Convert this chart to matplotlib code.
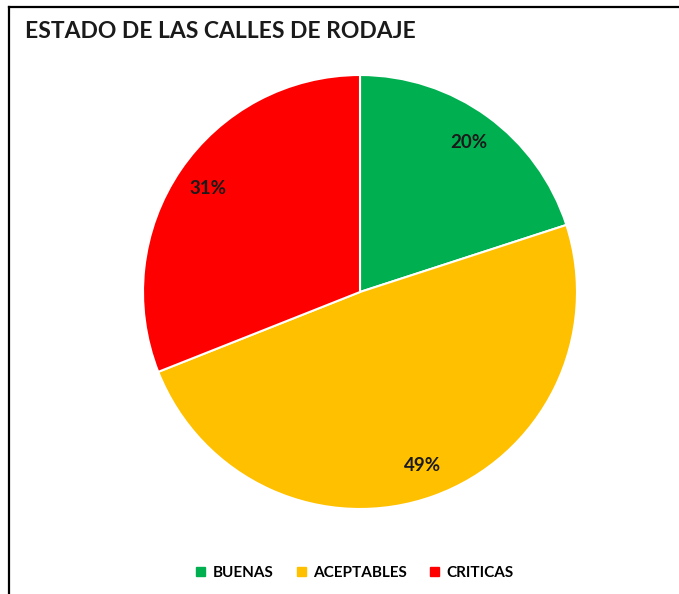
import matplotlib
matplotlib.use("Agg")
from matplotlib import pyplot as plt
from matplotlib.lines import Line2D

# data
categories = ["BUENAS", "ACEPTABLES", "CRITICAS"]
shares = [20, 49, 31]
colors = ["#00B050", "#FFC000", "#FF0000"]
title = "ESTADO DE LAS CALLES DE RODAJE"

plt.rcParams['font.family'] = ['Lato', 'DejaVu Sans']

fig = plt.figure(figsize=(6.79, 5.94), dpi=100)
fig.patch.set_facecolor("white")

# frame lines (left + top only, the rest is cropped)
fig.add_artist(Line2D([9 / 679, 9 / 679], [0, 1 - 7 / 594], color="black", lw=1.6))
fig.add_artist(Line2D([9 / 679, 1], [1 - 7 / 594, 1 - 7 / 594], color="black", lw=1.6))

fig.text(25 / 679, 1 - 31 / 594, title, fontsize=16.5, fontweight="bold",
         va="center", ha="left", color="#1a1a1a")

# pie area: center (360, 292), radius ~217 px
r = 217
ax = fig.add_axes([(360 - r) / 679, 1 - (292 + r) / 594, 2 * r / 679, 2 * r / 594])
wedges, texts, autotexts = ax.pie(
    shares, colors=colors, startangle=90, counterclock=False,
    autopct="%1.0f%%", pctdistance=0.85,
    wedgeprops=dict(edgecolor="white", linewidth=1.5),
    textprops=dict(fontsize=13.5, fontweight="bold", color="#1a1a1a"))
ax.set_xlim(-1, 1)
ax.set_ylim(-1, 1)
ax.set_aspect("equal")
ax.axis("off")

handles = [plt.Rectangle((0, 0), 1, 1, color=c) for c in colors]
fig.legend(handles, categories, loc="center", bbox_to_anchor=(355 / 679, 1 - 573 / 594),
           ncol=3, frameon=False, handlelength=0.6, handleheight=0.6,
           handletextpad=0.5, columnspacing=1.5,
           prop=dict(weight="bold", size=11))

fig.savefig("out.png", dpi=100, facecolor="white")
